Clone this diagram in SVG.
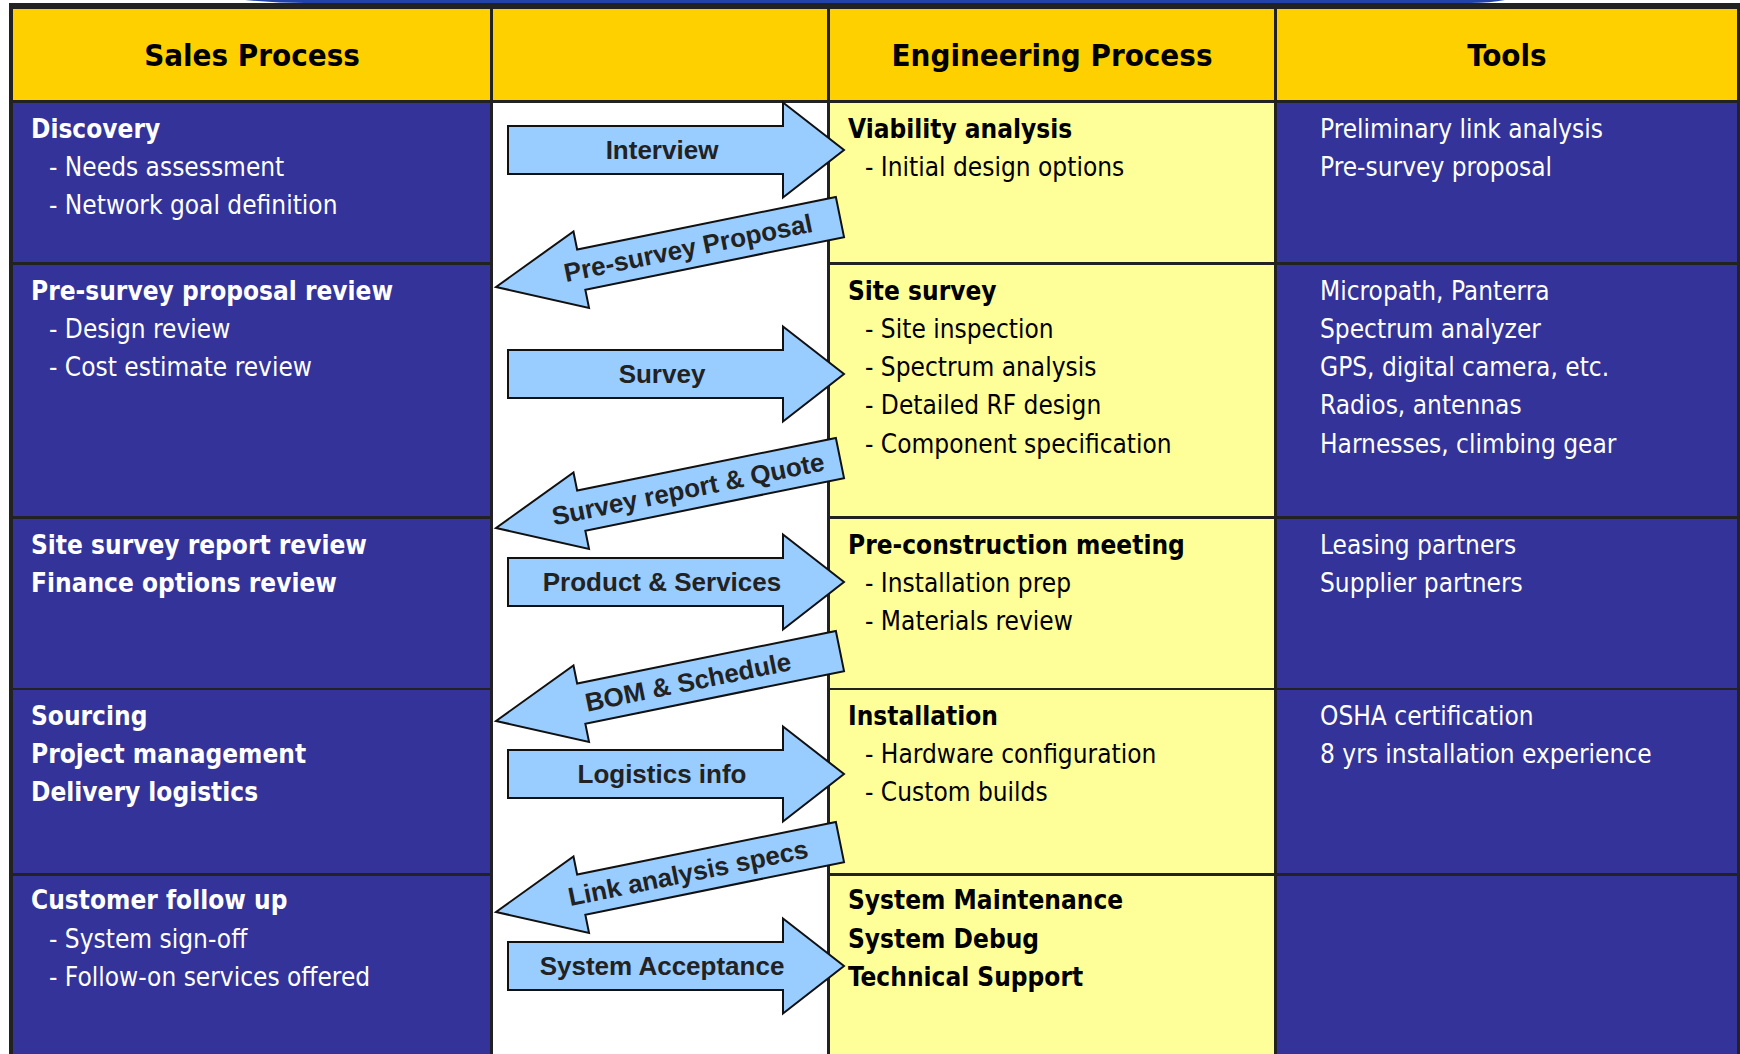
<svg xmlns="http://www.w3.org/2000/svg" width="1740" height="1054" viewBox="0 0 1740 1054">
<defs>
<style>
.hd{font-family:"DejaVu Sans Condensed","DejaVu Sans",sans-serif;font-stretch:condensed;font-weight:bold;font-size:31px;fill:#000;text-anchor:middle}
.tx{font-family:"DejaVu Sans Condensed","DejaVu Sans",sans-serif;font-stretch:condensed;font-size:26px}
.b{font-weight:bold}
.w{fill:#fff}
.k{fill:#000}
.at{font-family:"Liberation Sans",Arial,sans-serif;font-weight:bold;font-size:26px;fill:#222;text-anchor:middle}
.arr{fill:#99CCFF;stroke:#111;stroke-width:2;stroke-linejoin:miter}
.blue{fill:#333399}
.yel{fill:#FFFF99}
.hdr{fill:#FFD000}
</style>
<path id="ra" d="M0,-24 L275,-24 L275,-47.5 L336,0 L275,47.5 L275,24 L0,24 Z"/>
<path id="la" d="M0,0 L87,-39 L87,-20.5 L351,-20.5 L351,20.5 L87,20.5 L87,39 Z"/>
</defs>
<rect x="0" y="0" width="1740" height="1054" fill="#fff"/>
<path d="M245,0 Q275,3 305,3 L1470,3 Q1490,3 1505,0 Z" fill="#2244AA"/>
<rect x="9" y="3" width="1731" height="1051" fill="#222"/>

<g id="header">
<rect class="hdr" x="13" y="9" width="477" height="91"/>
<rect class="hdr" x="493" y="9" width="334" height="91"/>
<rect class="hdr" x="830" y="9" width="444" height="91"/>
<rect class="hdr" x="1277" y="9" width="460" height="91"/>
<text class="hd" x="252" y="66">Sales Process</text>
<text class="hd" x="1052" y="66">Engineering Process</text>
<text class="hd" x="1507" y="66">Tools</text>
</g>

<rect x="493" y="103" width="334" height="951" fill="#fff"/>

<g id="sales-1">
<rect class="blue" x="13" y="103" width="477" height="159"/>
<text class="tx w b" x="31" y="137.5">Discovery</text>
<text class="tx w" x="49" y="175.8">- Needs assessment</text>
<text class="tx w" x="49" y="214.1">- Network goal definition</text>
</g>
<g id="sales-2">
<rect class="blue" x="13" y="265" width="477" height="251"/>
<text class="tx w b" x="31" y="299.5">Pre-survey proposal review</text>
<text class="tx w" x="49" y="337.8">- Design review</text>
<text class="tx w" x="49" y="376.1">- Cost estimate review</text>
</g>
<g id="sales-3">
<rect class="blue" x="13" y="519" width="477" height="169"/>
<text class="tx w b" x="31" y="553.5">Site survey report review</text>
<text class="tx w b" x="31" y="591.8">Finance options review</text>
</g>
<g id="sales-4">
<rect class="blue" x="13" y="690" width="477" height="183"/>
<text class="tx w b" x="31" y="724.5">Sourcing</text>
<text class="tx w b" x="31" y="762.8">Project management</text>
<text class="tx w b" x="31" y="801.1">Delivery logistics</text>
</g>
<g id="sales-5">
<rect class="blue" x="13" y="876" width="477" height="178"/>
<text class="tx w b" x="31" y="909">Customer follow up</text>
<text class="tx w" x="49" y="947.5">- System sign-off</text>
<text class="tx w" x="49" y="986">- Follow-on services offered</text>
</g>

<g id="eng-1">
<rect class="yel" x="830" y="103" width="444" height="159"/>
<text class="tx k b" x="848" y="137.5">Viability analysis</text>
<text class="tx k" x="865" y="175.8">- Initial design options</text>
</g>
<g id="eng-2">
<rect class="yel" x="830" y="265" width="444" height="251"/>
<text class="tx k b" x="848" y="299.5">Site survey</text>
<text class="tx k" x="865" y="337.8">- Site inspection</text>
<text class="tx k" x="865" y="376.1">- Spectrum analysis</text>
<text class="tx k" x="865" y="414.4">- Detailed RF design</text>
<text class="tx k" x="865" y="452.7">- Component specification</text>
</g>
<g id="eng-3">
<rect class="yel" x="830" y="519" width="444" height="169"/>
<text class="tx k b" x="848" y="553.5">Pre-construction meeting</text>
<text class="tx k" x="865" y="591.8">- Installation prep</text>
<text class="tx k" x="865" y="630.1">- Materials review</text>
</g>
<g id="eng-4">
<rect class="yel" x="830" y="690" width="444" height="183"/>
<text class="tx k b" x="848" y="724.5">Installation</text>
<text class="tx k" x="865" y="762.8">- Hardware configuration</text>
<text class="tx k" x="865" y="801.1">- Custom builds</text>
</g>
<g id="eng-5">
<rect class="yel" x="830" y="876" width="444" height="178"/>
<text class="tx k b" x="848" y="909">System Maintenance</text>
<text class="tx k b" x="848" y="947.5">System Debug</text>
<text class="tx k b" x="848" y="986">Technical Support</text>
</g>

<g id="tools-1">
<rect class="blue" x="1277" y="103" width="460" height="159"/>
<text class="tx w" x="1320" y="137.5">Preliminary link analysis</text>
<text class="tx w" x="1320" y="175.8">Pre-survey proposal</text>
</g>
<g id="tools-2">
<rect class="blue" x="1277" y="265" width="460" height="251"/>
<text class="tx w" x="1320" y="299.5">Micropath, Panterra</text>
<text class="tx w" x="1320" y="337.8">Spectrum analyzer</text>
<text class="tx w" x="1320" y="376.1">GPS, digital camera, etc.</text>
<text class="tx w" x="1320" y="414.4">Radios, antennas</text>
<text class="tx w" x="1320" y="452.7">Harnesses, climbing gear</text>
</g>
<g id="tools-3">
<rect class="blue" x="1277" y="519" width="460" height="169"/>
<text class="tx w" x="1320" y="553.5">Leasing partners</text>
<text class="tx w" x="1320" y="591.8">Supplier partners</text>
</g>
<g id="tools-4">
<rect class="blue" x="1277" y="690" width="460" height="183"/>
<text class="tx w" x="1320" y="724.5">OSHA certification</text>
<text class="tx w" x="1320" y="762.8">8 yrs installation experience</text>
</g>
<g id="tools-5">
<rect class="blue" x="1277" y="876" width="460" height="178"/>
</g>

<g id="connectors">
<g transform="translate(508,150)"><use href="#ra" class="arr"/><text class="at" x="154" y="9">Interview</text></g>
<g transform="translate(496,287) rotate(-11.5)"><use href="#la" class="arr"/><text class="at" x="196" y="9">Pre-survey Proposal</text></g>
<g transform="translate(508,374)"><use href="#ra" class="arr"/><text class="at" x="154" y="9">Survey</text></g>
<g transform="translate(496,528) rotate(-11.5)"><use href="#la" class="arr"/><text class="at" x="196" y="9">Survey report &amp; Quote</text></g>
<g transform="translate(508,582)"><use href="#ra" class="arr"/><text class="at" x="154" y="9">Product &amp; Services</text></g>
<g transform="translate(496,721) rotate(-11.5)"><use href="#la" class="arr"/><text class="at" x="196" y="9">BOM &amp; Schedule</text></g>
<g transform="translate(508,774)"><use href="#ra" class="arr"/><text class="at" x="154" y="9">Logistics info</text></g>
<g transform="translate(496,912) rotate(-11.5)"><use href="#la" class="arr"/><text class="at" x="196" y="9">Link analysis specs</text></g>
<g transform="translate(508,966)"><use href="#ra" class="arr"/><text class="at" x="154" y="9">System Acceptance</text></g>
</g>
</svg>
